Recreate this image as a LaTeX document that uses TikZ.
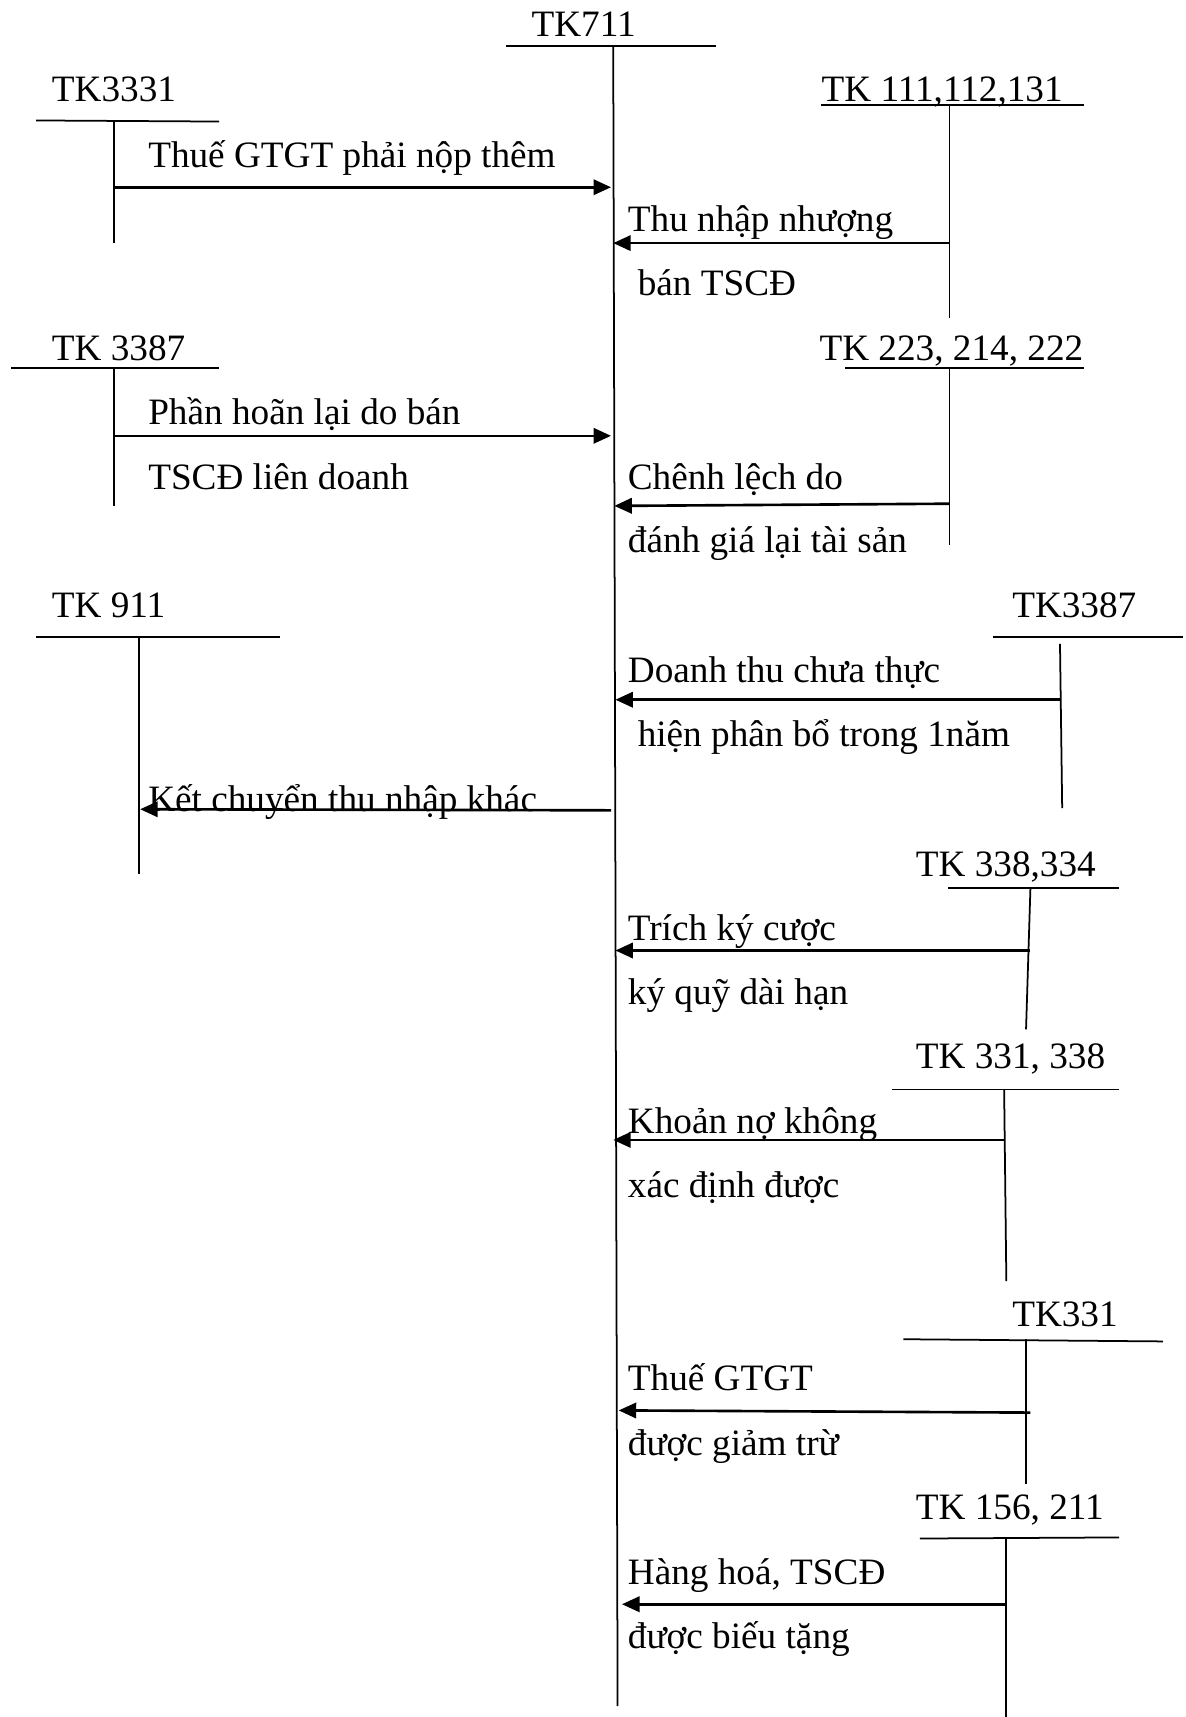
\documentclass[tikz,border=0pt]{standalone}
\usepackage{fontspec}
\setmainfont{Liberation Serif}
\usetikzlibrary{arrows.meta}
\begin{document}
\begin{tikzpicture}[x=0.5pt,y=-0.5pt,
  acc/.style={line width=0.8pt},
  flow/.style={line width=1.2pt,-{Triangle[length=8pt,width=7pt]}},
  lbl/.style={anchor=base west,inner sep=0pt,font=\fontsize{17}{20}\selectfont},
  lblc/.style={anchor=base,inner sep=0pt,font=\fontsize{17}{20}\selectfont}]
\useasboundingbox[fill=white] (0,0) rectangle (1083,1568);
% TK711
\node[lblc] (t711) at (533,33) {TK711};
\draw[acc] (462,42) -- (654,42);
\coordinate (m0) at (560,42);
\coordinate (m1) at (564,1558);
\draw[acc] (m0) -- (m1);
% TK3331
\node[lbl] (t3331) at (47,93) {TK3331};
\draw[acc] (33,110) -- (200,111);
\coordinate (a1) at (104,110); \coordinate (a1b) at (104,222);
\draw[acc] (a1) -- (a1b);
\coordinate (a1s) at (104,171); \coordinate (a1e) at (558,171);
\draw[flow] (a1s) -- (a1e);
\node[lbl] (l1) at (135,153) {Thuế GTGT phải nộp thêm};
% TK 111,112,131
\node[lbl] (t111) at (750,93) {TK 111,112,131};
\draw[acc] (750,96) -- (990,96);
\coordinate (b1) at (867,96); \coordinate (b1b) at (867,290);
\draw[acc] (b1) -- (b1b);
\coordinate (b1s) at (867,222); \coordinate (b1e) at (560,222);
\draw[flow] (b1s) -- (b1e);
\node[lbl] (l2a) at (573,211) {Thu nhập nhượng};
\node[lbl] (l2b) at (582,270) {bán TSCĐ};
% TK 3387 left
\node[lbl] (t3387a) at (47,329) {TK 3387};
\draw[acc] (10,336) -- (200,336);
\coordinate (c1) at (104,336); \coordinate (c1b) at (104,462);
\draw[acc] (c1) -- (c1b);
\coordinate (c1s) at (104,398); \coordinate (c1e) at (558,398);
\draw[flow] (c1s) -- (c1e);
\node[lbl] (l3a) at (135,388) {Phần hoãn lại do bán};
\node[lbl] (l3b) at (135,447) {TSCĐ liên doanh};
% TK 223,214,222
\node[lbl] (t223) at (748,329) {TK 223, 214, 222};
\draw[acc] (772,336) -- (990,336);
\coordinate (d1) at (867,336); \coordinate (d1b) at (867,498);
\draw[acc] (d1) -- (d1b);
\coordinate (d1s) at (867,460); \coordinate (d1e) at (561,462);
\draw[flow] (d1s) -- (d1e);
\node[lbl] (l4a) at (573,447) {Chênh lệch do};
\node[lbl] (l4b) at (573,505) {đánh giá lại tài sản};
% TK 911
\node[lbl] (t911) at (47,564) {TK 911};
\draw[acc] (33,582) -- (256,582);
\coordinate (e1) at (127,582); \coordinate (e1b) at (127,798);
\draw[acc] (e1) -- (e1b);
\coordinate (e1s) at (558,740); \coordinate (e1e) at (128,739);
\draw[flow] (e1s) -- (e1e);
\node[lbl] (l5) at (135,741) {Kết chuyển thu nhập khác};
% TK3387 right
\node[lbl] (t3387b) at (924,564) {TK3387};
\draw[acc] (907,582) -- (1080,582);
\coordinate (f1) at (968,588); \coordinate (f1b) at (970,738);
\draw[acc] (f1) -- (f1b);
\coordinate (f1s) at (968,639); \coordinate (f1e) at (562,639);
\draw[flow] (f1s) -- (f1e);
\node[lbl] (l6a) at (573,623) {Doanh thu chưa thực};
\node[lbl] (l6b) at (582,682) {hiện phân bổ trong 1năm};
% TK 338,334
\node[lbl] (t338) at (836,800) {TK 338,334};
\draw[acc] (866,811) -- (1022,811);
\coordinate (g1) at (941,811); \coordinate (g1b) at (937,940);
\draw[acc] (g1) -- (g1b);
\coordinate (g1s) at (941,868); \coordinate (g1e) at (562,868);
\draw[flow] (g1s) -- (g1e);
\node[lbl] (l7a) at (573,859) {Trích ký cược};
\node[lbl] (l7b) at (573,917) {ký quỹ dài hạn};
% TK 331, 338
\node[lbl] (t331a) at (836,976) {TK 331, 338};
\draw[acc] (815,995) -- (1022,995);
\coordinate (h1) at (917,995); \coordinate (h1b) at (919,1170);
\draw[acc] (h1) -- (h1b);
\coordinate (h1s) at (917,1041); \coordinate (h1e) at (560,1041);
\draw[flow] (h1s) -- (h1e);
\node[lbl] (l8a) at (573,1035) {Khoản nợ không};
\node[lbl] (l8b) at (573,1094) {xác định được};
% TK331
\node[lbl] (t331b) at (924,1211) {TK331};
\draw[acc] (825,1223) -- (1062,1225);
\coordinate (i1) at (937,1223); \coordinate (i1b) at (937,1355);
\draw[acc] (i1) -- (i1b);
\coordinate (i1s) at (941,1290); \coordinate (i1e) at (565,1288);
\draw[flow] (i1s) -- (i1e);
\node[lbl] (l9a) at (573,1270) {Thuế GTGT};
\node[lbl] (l9b) at (573,1329) {được giảm trừ};
% TK 156, 211
\node[lbl] (t156) at (836,1388) {TK 156, 211};
\draw[acc] (840,1405) -- (1022,1404);
\coordinate (j1) at (919,1405); \coordinate (j1b) at (919,1568);
\draw[acc] (j1) -- (j1b);
\coordinate (j1s) at (919,1465); \coordinate (j1e) at (568,1465);
\draw[flow] (j1s) -- (j1e);
\node[lbl] (l10a) at (573,1447) {Hàng hoá, TSCĐ};
\node[lbl] (l10b) at (573,1505) {được biếu tặng};
\end{tikzpicture}
\end{document}
